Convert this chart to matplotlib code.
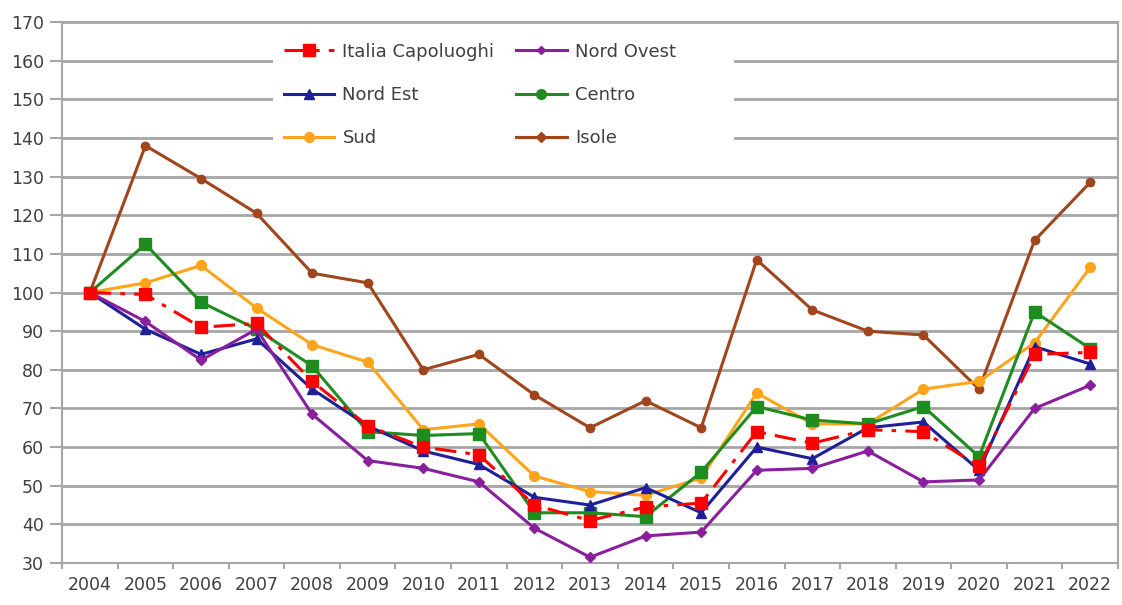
import matplotlib
matplotlib.use("Agg")
import matplotlib.pyplot as plt
from matplotlib.lines import Line2D
from matplotlib.patches import Rectangle

# years on the x axis
years = ["2004", "2005", "2006", "2007", "2008", "2009", "2010", "2011", "2012", "2013",
         "2014", "2015", "2016", "2017", "2018", "2019", "2020", "2021", "2022"]

# index values (2004 = 100)
italia_capoluoghi = [100, 99.5, 91, 92, 77, 65.5, 60, 58, 45, 41, 44.5, 45.5, 64, 61, 64.5, 64, 55, 84, 84.5]
nord_ovest = [100, 92.5, 82.5, 90.5, 68.5, 56.5, 54.5, 51, 39, 31.5, 37, 38, 54, 54.5, 59, 51, 51.5, 70, 76]
nord_est = [100, 90.5, 84, 88, 75, 65.5, 59, 55.5, 47, 45, 49.5, 43, 60, 57, 65, 66.5, 54, 86, 81.5]
centro = [100, 112.5, 97.5, 90.5, 81, 64, 63, 63.5, 43, 43, 42, 53.5, 70.5, 67, 66, 70.5, 57.5, 95, 85.5]
sud = [100, 102.5, 107, 96, 86.5, 82, 64.5, 66, 52.5, 48.5, 47.5, 52, 74, 66, 66, 75, 77, 87, 106.5]
isole = [100, 138, 129.5, 120.5, 105, 102.5, 80, 84, 73.5, 65, 72, 65, 108.5, 95.5, 90, 89, 75, 113.5, 128.5]

y_ticks = list(range(30, 171, 10))

fig = plt.figure(figsize=(11.22, 6.05), dpi=100)
ax = fig.add_axes([0.0553, 0.0694, 0.9411, 0.8942])

x = list(range(len(years)))
grey = "#a6a6a6"
txt = "#404040"

# draw the series (order matters for overlap)
ax.plot(x, isole, color="#a0451c", lw=2.2, marker="o", ms=6, zorder=3)
ax.plot(x, sud, color="#ffa41b", lw=2.2, marker="o", ms=7, zorder=3)
ax.plot(x, centro, color="#1f8c1f", lw=2.2, marker="s", ms=8, zorder=4)
ax.plot(x, nord_est, color="#1f1f9a", lw=2.2, marker="^", ms=7, zorder=5)
ax.plot(x, nord_ovest, color="#8a1f9e", lw=2.2, marker="D", ms=5, zorder=5)
ax.plot(x, italia_capoluoghi, color="#ff0000", lw=2.2, marker="s", ms=8,
        dashes=(7, 3, 1.5, 3), zorder=6)

ax.set_xlim(-0.5, len(years) - 0.5)
ax.set_ylim(30, 170)
ax.set_yticks(y_ticks)
ax.set_xticks(x)
ax.set_xticklabels(years)
ax.set_xticks([i - 0.5 for i in range(len(years) + 1)], minor=True)
ax.tick_params(axis="x", which="major", length=0, pad=9, labelsize=12.5, labelcolor=txt)
ax.tick_params(axis="x", which="minor", length=4, width=1.5, color=grey, direction="out")
ax.tick_params(axis="y", length=9, width=1.5, color=grey, labelsize=12.5, labelcolor=txt, pad=4)

ax.grid(axis="y", color=grey, lw=2, zorder=0)
ax.set_axisbelow(True)
for s in ax.spines.values():
    s.set_color(grey)
    s.set_linewidth(1.5)

# white area behind the legend hides the gridlines there
ax.add_patch(Rectangle((0.1998, 0.74), 0.437, 0.235, transform=ax.transAxes,
                       facecolor="white", edgecolor="none", zorder=1))

# legend handles, row by row the picture reads: Italia/Nord Ovest, Nord Est/Centro, Sud/Isole
h_it = Line2D([], [], color="#ff0000", lw=2.2, marker="s", ms=8, dashes=(7, 3, 1.5, 3))
h_no = Line2D([], [], color="#8a1f9e", lw=2.2, marker="D", ms=4)
h_ne = Line2D([], [], color="#1f1f9a", lw=2.2, marker="^", ms=7)
h_ce = Line2D([], [], color="#1f8c1f", lw=2.2, marker="o", ms=7)
h_su = Line2D([], [], color="#ffa41b", lw=2.2, marker="o", ms=7)
h_is = Line2D([], [], color="#a0451c", lw=2.2, marker="D", ms=5)
leg = ax.legend([h_it, h_ne, h_su, h_no, h_ce, h_is],
                ["Italia Capoluoghi", "Nord Est", "Sud", "Nord Ovest", "Centro", "Isole"],
                ncol=2, loc="upper left", bbox_to_anchor=(0.210, 0.962),
                frameon=False, fontsize=13, handlelength=2.8, handletextpad=0.45,
                columnspacing=1.2, labelspacing=1.4, borderpad=0, borderaxespad=0)
for t in leg.get_texts():
    t.set_color(txt)
leg.set_zorder(2)

fig.savefig("out.png", dpi=100)
